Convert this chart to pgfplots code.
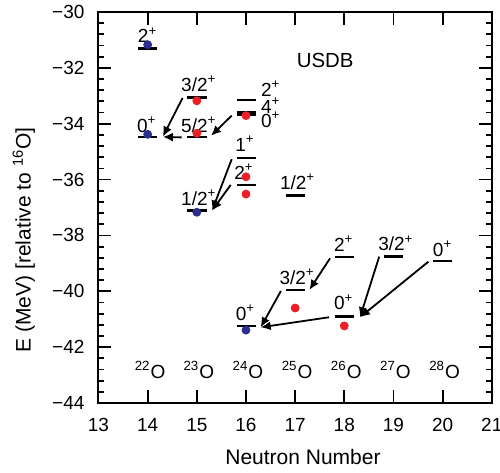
\documentclass[border=0pt]{standalone}
\usepackage{fontspec}
\setmainfont{Liberation Sans}
\usepackage{pgfplots}
\pgfplotsset{compat=1.18}
\usetikzlibrary{arrows.meta}
\definecolor{dblue}{rgb}{0.17,0.18,0.55}
\definecolor{dred}{rgb}{0.92,0.12,0.15}
\newcommand{\lbl}{\fontsize{9.5}{11}\selectfont}
\newcommand{\spn}[1]{#1\textsuperscript{+}}
\begin{document}
\begin{tikzpicture}
\useasboundingbox (-49.25pt,-35pt) rectangle (200.75pt,201.5pt);
\begin{axis}[
 scale only axis, width=196.65pt, height=195.5pt,
 xmin=13, xmax=21, ymin=-44, ymax=-30,
 xtick={13,14,...,21}, ytick={-44,-42,...,-30},
 yticklabels={−44,−42,−40,−38,−36,−34,−32,−30},
 minor y tick num=4,
 tick align=inside, xtick pos=both, ytick pos=both,
 major tick length=6.5pt, minor tick length=3pt,
 axis line style={line width=1pt},
 tick style={line width=0.9pt, black},
 ticklabel style={font=\fontsize{9.5}{11}\selectfont},
 /pgf/number format/assume math mode=true,
 xticklabel style={yshift=-4pt}, yticklabel style={xshift=-3.5pt},
 xlabel={Neutron Number}, ylabel={E (MeV) [relative to \textsuperscript{16}O]},
 label style={font=\fontsize{10.5}{12}\selectfont},
 xlabel style={at={(axis description cs:0.52,-0.138)}, anchor=center},
 ylabel style={at={(axis description cs:-0.19,0.417)}, anchor=center},
 clip=false,
]
% levels (USDB)
\pgfplotsset{lev/.style={black, line width=1.3pt, forget plot}}
\addplot[lev] coordinates {(13.81,-31.30)(14.2,-31.30)};
\addplot[lev] coordinates {(13.81,-34.48)(14.2,-34.48)};
\addplot[lev] coordinates {(14.81,-33.07)(15.2,-33.07)};
\addplot[lev] coordinates {(14.81,-34.48)(15.2,-34.48)};
\addplot[lev] coordinates {(14.81,-37.10)(15.2,-37.10)};
\addplot[lev] coordinates {(15.81,-33.15)(16.2,-33.15)};
\addplot[lev] coordinates {(15.81,-33.60)(16.2,-33.60)};
\addplot[lev] coordinates {(15.81,-33.66)(16.2,-33.66)};
\addplot[lev] coordinates {(15.81,-35.23)(16.2,-35.23)};
\addplot[lev] coordinates {(15.81,-36.19)(16.2,-36.19)};
\addplot[lev] coordinates {(15.81,-41.24)(16.2,-41.24)};
\addplot[lev] coordinates {(16.81,-36.58)(17.2,-36.58)};
\addplot[lev] coordinates {(16.81,-39.95)(17.2,-39.95)};
\addplot[lev] coordinates {(17.81,-38.77)(18.2,-38.77)};
\addplot[lev] coordinates {(17.81,-40.91)(18.2,-40.91)};
\addplot[lev] coordinates {(18.81,-38.76)(19.2,-38.76)};
\addplot[lev] coordinates {(19.81,-38.92)(20.2,-38.92)};
% experimental points
\addplot[only marks, mark=*, mark size=2pt, color=dblue, forget plot]
 coordinates {(14,-31.17)(14,-34.38)(15,-37.17)(16,-41.39)};
\addplot[only marks, mark=*, mark size=2pt, color=dred, forget plot]
 coordinates {(15,-33.18)(15,-34.34)(16,-33.71)(16,-35.90)(16,-36.52)(17,-40.60)(18,-41.24)};
% arrows
\pgfplotsset{arr/.style={black, line width=0.9pt, -{Latex[length=5pt,width=4.5pt]}, forget plot}}
\addplot[arr] coordinates {(14.71,-33.08)(14.31,-34.46)};
\addplot[arr] coordinates {(14.69,-34.49)(14.31,-34.47)};
\addplot[arr] coordinates {(15.71,-33.71)(15.29,-34.43)};
\addplot[arr] coordinates {(15.71,-35.27)(15.31,-37.11)};
\addplot[arr] coordinates {(15.69,-36.19)(15.31,-37.11)};
\addplot[arr] coordinates {(16.71,-39.99)(16.30,-41.29)};
\addplot[arr] coordinates {(17.71,-38.82)(17.29,-39.95)};
\addplot[arr] coordinates {(17.69,-40.93)(16.30,-41.29)};
\addplot[arr] coordinates {(18.71,-38.76)(18.32,-40.93)};
\addplot[arr] coordinates {(19.71,-38.94)(18.32,-40.93)};
% spin labels
\node[anchor=base, font=\lbl, inner sep=0pt] at (axis cs:14.0,-31.10) {\spn{2}};
\node[anchor=base, font=\lbl, inner sep=0pt] at (axis cs:13.98,-34.31) {\spn{0}};
\node[anchor=base, font=\lbl, inner sep=0pt] at (axis cs:15.04,-32.85) {\spn{3/2}};
\node[anchor=base, font=\lbl, inner sep=0pt] at (axis cs:15.04,-34.31) {\spn{5/2}};
\node[anchor=base, font=\lbl, inner sep=0pt] at (axis cs:15.04,-36.93) {\spn{1/2}};
\node[anchor=base west, font=\lbl, inner sep=0pt] at (axis cs:16.30,-33.01) {\spn{2}};
\node[anchor=base west, font=\lbl, inner sep=0pt] at (axis cs:16.30,-33.63) {\spn{4}};
\node[anchor=base west, font=\lbl, inner sep=0pt] at (axis cs:16.30,-34.13) {\spn{0}};
\node[anchor=base, font=\lbl, inner sep=0pt] at (axis cs:15.98,-34.98) {\spn{1}};
\node[anchor=base, font=\lbl, inner sep=0pt] at (axis cs:15.96,-35.99) {\spn{2}};
\node[anchor=base, font=\lbl, inner sep=0pt] at (axis cs:17.05,-36.35) {\spn{1/2}};
\node[anchor=base, font=\lbl, inner sep=0pt] at (axis cs:15.99,-41.03) {\spn{0}};
\node[anchor=base, font=\lbl, inner sep=0pt] at (axis cs:17.04,-39.74) {\spn{3/2}};
\node[anchor=base, font=\lbl, inner sep=0pt] at (axis cs:17.99,-38.58) {\spn{2}};
\node[anchor=base, font=\lbl, inner sep=0pt] at (axis cs:17.99,-40.67) {\spn{0}};
\node[anchor=base, font=\lbl, inner sep=0pt] at (axis cs:19.05,-38.55) {\spn{3/2}};
\node[anchor=base, font=\lbl, inner sep=0pt] at (axis cs:20.0,-38.74) {\spn{0}};
\node[anchor=base, font=\fontsize{10.2}{12}\selectfont, inner sep=0pt] at (axis cs:17.61,-31.99) {USDB};
% isotopes
\node[anchor=base, font=\lbl, inner sep=0pt] at (axis cs:14.05,-43.12) {\textsuperscript{22}O};
\node[anchor=base, font=\lbl, inner sep=0pt] at (axis cs:15.04,-43.12) {\textsuperscript{23}O};
\node[anchor=base, font=\lbl, inner sep=0pt] at (axis cs:16.04,-43.12) {\textsuperscript{24}O};
\node[anchor=base, font=\lbl, inner sep=0pt] at (axis cs:17.04,-43.12) {\textsuperscript{25}O};
\node[anchor=base, font=\lbl, inner sep=0pt] at (axis cs:18.04,-43.12) {\textsuperscript{26}O};
\node[anchor=base, font=\lbl, inner sep=0pt] at (axis cs:19.04,-43.12) {\textsuperscript{27}O};
\node[anchor=base, font=\lbl, inner sep=0pt] at (axis cs:20.04,-43.12) {\textsuperscript{28}O};
\end{axis}
\end{tikzpicture}
\end{document}
